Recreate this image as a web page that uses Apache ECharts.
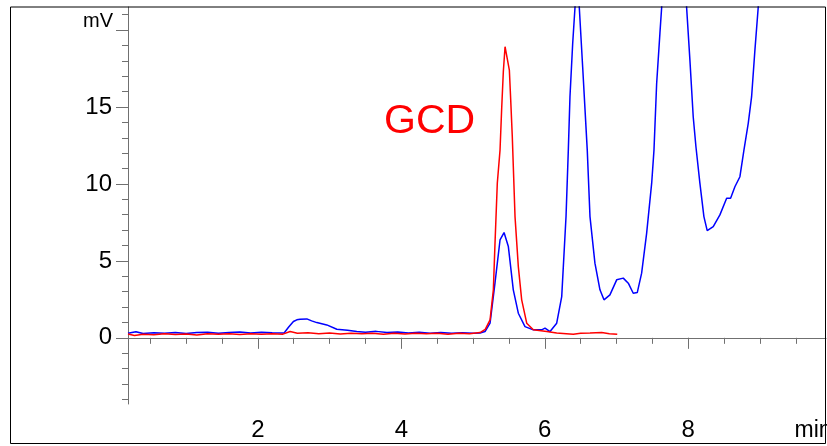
<!DOCTYPE html>
<html>
<head>
<meta charset="utf-8">
<script src="https://cdn.jsdelivr.net/npm/echarts@6/dist/echarts.min.js"></script>
<style>
html,body{margin:0;padding:0;background:#fff;}
#chart{width:827px;height:446px;}
</style>
</head>
<body>
<div id="chart"></div>
<script>
// ---- data (time in min, signal in mV) ----
const blueTime = [0.19,0.30,0.40,0.55,0.70,0.85,1.00,1.15,1.30,1.45,1.60,1.75,1.90,2.05,2.20,2.366,2.43,2.496,2.543,2.589,2.683,2.75,2.822,2.961,3.101,3.25,3.379,3.50,3.65,3.80,3.95,4.10,4.25,4.40,4.55,4.70,4.85,5.00,5.097,5.167,5.237,5.306,5.376,5.432,5.492,5.561,5.631,5.724,5.840,5.957,6.003,6.073,6.166,6.236,6.296,6.328,6.351,6.389,6.421,6.449,6.481,6.528,6.592,6.630,6.699,6.769,6.825,6.908,7.002,7.094,7.164,7.233,7.289,7.350,7.420,7.490,7.522,7.559,7.605,7.629,7.80,7.977,8.023,8.069,8.107,8.162,8.218,8.264,8.348,8.441,8.535,8.590,8.650,8.720,8.776,8.836,8.883,8.929,8.975,9.01];
const blueSignal = [0.30,0.40,0.28,0.33,0.30,0.35,0.28,0.34,0.36,0.30,0.35,0.38,0.32,0.36,0.33,0.31,0.70,1.06,1.17,1.21,1.23,1.10,0.99,0.84,0.56,0.49,0.41,0.36,0.42,0.34,0.38,0.31,0.36,0.30,0.34,0.30,0.33,0.30,0.31,0.41,0.95,3.57,6.36,6.84,5.93,3.12,1.60,0.73,0.52,0.52,0.63,0.41,0.95,2.68,7.88,12.2,15.67,19.14,21.47,24.5,21.47,17.6,12.2,7.88,4.85,3.12,2.47,2.79,3.77,3.88,3.55,2.90,2.94,4.20,6.80,10.05,12.2,16.5,19.8,21.47,38,21.47,18.05,14.37,12.42,10.05,7.88,6.97,7.23,7.99,9.07,9.07,9.82,10.47,12.2,13.94,15.67,18.70,21.47,25];

const redTime = [0.19,0.28,0.40,0.55,0.70,0.85,1.00,1.15,1.30,1.45,1.60,1.75,1.90,2.05,2.20,2.35,2.45,2.55,2.70,2.85,3.00,3.15,3.30,3.45,3.60,3.75,3.90,4.05,4.20,4.35,4.50,4.65,4.80,4.95,5.097,5.17,5.237,5.283,5.306,5.338,5.376,5.400,5.422,5.446,5.46,5.469,5.506,5.525,5.547,5.585,5.631,5.678,5.748,5.840,6.027,6.166,6.30,6.397,6.50,6.630,6.793,6.90,7.010];
const redSignal = [0.25,0.15,0.24,0.20,0.27,0.22,0.25,0.18,0.26,0.23,0.27,0.22,0.26,0.24,0.27,0.24,0.41,0.30,0.33,0.27,0.31,0.25,0.29,0.26,0.30,0.24,0.29,0.25,0.30,0.26,0.29,0.23,0.30,0.26,0.34,0.55,1.17,3.12,6.15,10.05,12.2,15.02,17.29,18.92,19.0,18.92,17.4,15.45,13.07,7.88,4.63,2.47,0.95,0.52,0.41,0.31,0.27,0.24,0.30,0.31,0.34,0.27,0.24];

const xMajorTicks = [2,4,6,8];
const xMinorTicks = [0.5,1,1.5,2,2.5,3,3.5,4,4.5,5,5.5,6,6.5,7,7.5,8,8.5,9,9.5];
const yMajorTicks = [0,5,10,15,20];
const yLabelTicks = [0,5,10,15];
const yMinorTicks = [-4,-3,-2,-1,0,1,2,3,4,5,6,7,8,9,10,11,12,13,14,15,16,17,18,19,20,21];

const X_MIN = 0.19, X_MAX = 9.92, Y_MIN = -4.3, Y_MAX = 21.5;
const FONT = '"Liberation Sans", Arial, sans-serif';
const AXIS_COLOR = '#707070';

const zip = (a, b) => a.map((v, i) => [v, b[i]]);

const chart = echarts.init(document.getElementById('chart'), null, {renderer: 'canvas'});
chart.setOption({
  animation: false,
  backgroundColor: '#fff',
  grid: {left: 128, top: 7, right: 1, bottom: 42, containLabel: false},
  xAxis: [{
    type: 'value', min: X_MIN, max: X_MAX, position: 'bottom',
    axisLine: {show: true, lineStyle: {color: AXIS_COLOR, width: 1}},
    axisTick: {show: true, customValues: xMajorTicks, length: 11, lineStyle: {color: AXIS_COLOR}},
    axisLabel: {show: true, customValues: xMajorTicks, fontSize: 24, fontFamily: FONT, color: '#000', margin: 14},
    splitLine: {show: false}
  }, {
    type: 'value', min: X_MIN, max: X_MAX, position: 'bottom',
    axisLine: {show: false},
    axisTick: {show: true, customValues: xMinorTicks, length: 6, lineStyle: {color: AXIS_COLOR}},
    axisLabel: {show: false},
    splitLine: {show: false}
  }],
  yAxis: [{
    type: 'value', min: Y_MIN, max: Y_MAX, position: 'left',
    axisLine: {show: true, lineStyle: {color: AXIS_COLOR, width: 1}},
    axisTick: {show: true, customValues: yMajorTicks, length: 12, lineStyle: {color: AXIS_COLOR}},
    axisLabel: {show: true, customValues: yLabelTicks, fontSize: 24, fontFamily: FONT, color: '#000', margin: 16},
    splitLine: {show: false}
  }, {
    type: 'value', min: Y_MIN, max: Y_MAX, position: 'left',
    axisLine: {show: false},
    axisTick: {show: true, customValues: yMinorTicks, length: 6, lineStyle: {color: AXIS_COLOR}},
    axisLabel: {show: false},
    splitLine: {show: false}
  }],
  series: [{
    type: 'line', xAxisIndex: 0, yAxisIndex: 0,
    data: zip(blueTime, blueSignal),
    showSymbol: false, symbol: 'none', clip: true,
    lineStyle: {color: '#0000ff', width: 1.5},
    z: 2
  }, {
    type: 'line', xAxisIndex: 0, yAxisIndex: 0,
    data: zip(redTime, redSignal),
    showSymbol: false, symbol: 'none', clip: true,
    lineStyle: {color: '#ff0000', width: 1.5},
    z: 3
  }],
  graphic: [
    {type: 'text', left: 384, top: 101, style: {text: 'GCD', font: '41px ' + FONT, fill: '#ff0000', verticalAlign: 'middle'}, silent: true},
    {type: 'text', style: {text: 'mV', x: 113, y: 21.7, font: '20px ' + FONT, fill: '#000', align: 'right', verticalAlign: 'middle'}, silent: true},
    {type: 'text', style: {text: 'min', x: 794.5, y: 430.5, font: '23px ' + FONT, fill: '#000', align: 'left', verticalAlign: 'middle'}, silent: true},
    {type: 'rect', shape: {x: 10.5, y: 7, width: 815, height: 436.5}, style: {fill: 'none', stroke: '#000', lineWidth: 1}, silent: true, z: 100}
  ]
});
</script>
</body>
</html>
